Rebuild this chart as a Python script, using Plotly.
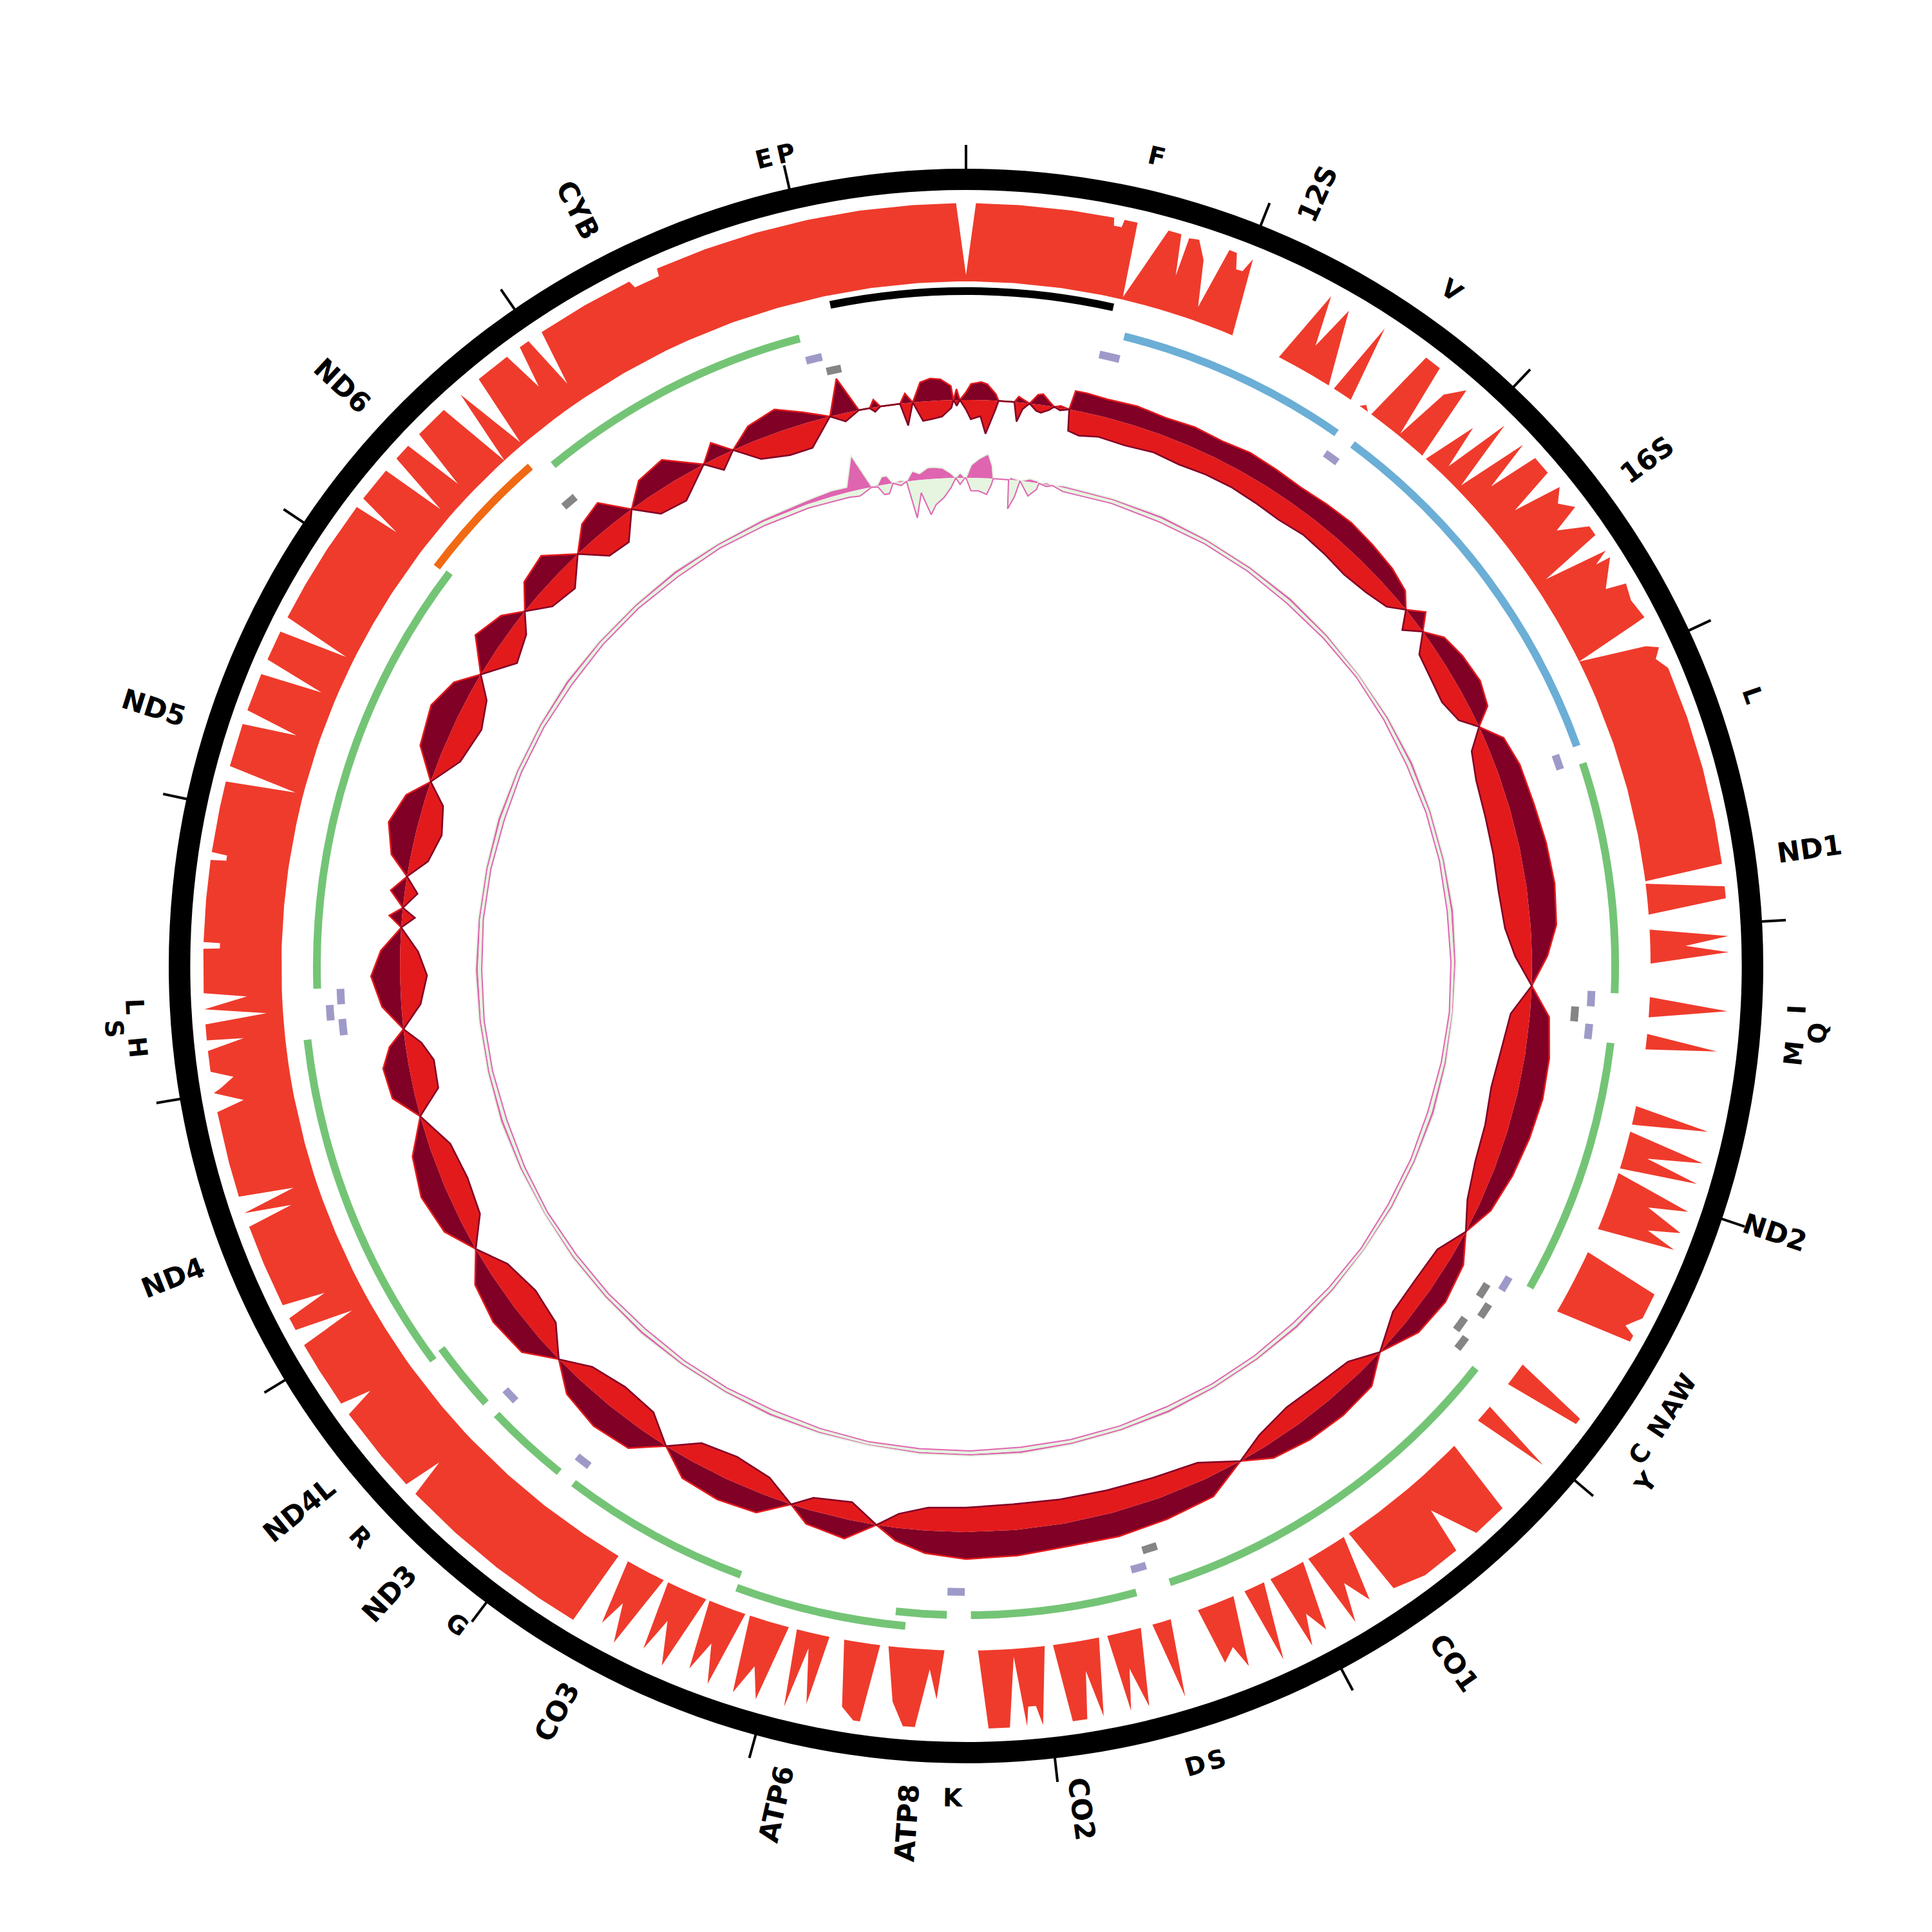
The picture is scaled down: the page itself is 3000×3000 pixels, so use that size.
import math
import plotly.graph_objects as go

# ---------------------------------------------------------------- data
GENOME_LEN = 16590
TICK_STEP = 1000

FEAT_NAME = ["D-loop", "F", "12S", "V", "16S", "L", "ND1", "I", "Q", "M", "ND2",
             "W", "A", "N", "C", "Y", "CO1", "S", "D", "CO2", "K", "ATP8", "ATP6",
             "CO3", "G", "ND3", "R", "ND4L", "ND4", "H", "S", "L", "ND5", "ND6",
             "", "CYB", "E", "P"]
FEAT_START = [16055, 567, 650, 1613, 1684, 3240, 3309, 4253, 4323, 4392, 4461,
              5521, 5594, 5664, 5770, 5834, 5912, 7456, 7525, 7594, 8300, 8373, 8537,
              9230, 10000, 10083, 10415, 10493, 10760, 12150, 12217, 12281, 12350, 14148,
              14691, 14770, 15908, 15982]
FEAT_END = [581, 654, 1604, 1677, 3235, 3304, 4258, 4318, 4387, 4456, 5516,
            5585, 5659, 5728, 5834, 5894, 7452, 7521, 7590, 8275, 8373, 8581, 9228,
            10009, 10065, 10429, 10479, 10779, 12148, 12219, 12281, 12346, 14161, 14696,
            14756, 15906, 15977, 16046]
FEAT_KIND = ["dloop", "trna+", "rrna", "trna+", "rrna", "trna+", "cds", "trna+", "trna-", "trna+", "cds",
             "trna+", "trna-", "trna-", "trna-", "trna-", "cds", "trna-", "trna+", "cds", "trna+", "cds", "cds",
             "cds", "trna+", "cds", "trna+", "cds", "cds", "trna+", "trna+", "trna+", "cds", "cds-",
             "trna-", "cds", "trna+", "trna-"]
FEAT_LAYER = [2, 0, 0, 0, 0, 0, 0, 0, 0, 0, 0,
              0, 0, 1, 0, 1, 0, 0, 0, 0, 0, 0, 1,
              0, 0, 0, 0, 0, 1, 0, 1, 0, 0, 1,
              0, 0, 0, 0]
LABEL_LAYER = [0, 0, 0, 0, 0, 0, 0, 0, 1, 0, 0,
               0, 0, 0, 0, 1, 0, 0, 0, 0, 0, 0, 0,
               0, 0, 0, 0, 0, 0, 0, 1, 0, 0, 0,
               0, 0, 0, 0]

# sequencing depth (fraction of the clipped maximum) along the map, in degrees
COV_DEG = [0.0, 0.75, 4, 8, 11.2, 11.3, 11.9, 12.0, 13.0, 13.2, 15.4, 16.4, 16.9, 17.05, 17.8,
           18.6, 19.4, 20.2, 20.8, 21.2, 21.7, 22.1, 22.9, 27.2, 28.6, 29.4, 30.3, 32.0, 32.5,
           33.3, 34.2, 35.1, 35.5, 35.95, 36.3, 37.1, 38.4, 39.2, 39.9, 41.0, 41.8, 42.2, 43.3,
           44.0, 44.9, 45.85, 46.9, 47.6, 48.25, 49.7, 50.3, 51.1, 52.0, 53.0, 53.6, 54.8, 55.6,
           56.3, 57.0, 57.5, 57.6, 59.5, 59.9, 61.2, 62.8, 63.6, 64.8, 65.3, 66.0, 67, 71, 75, 79,
           82.3, 82.9, 83.1, 84.0, 84.9, 85.7, 86.95, 87.75, 88.4, 88.96, 89.8, 92.6, 93.4, 94.3,
           95.7, 96.5, 97.0, 101.8, 102.6, 103.4, 104.0, 105.0, 105.8, 106.6, 107.2, 107.6, 108.8,
           109.5, 110.5, 111.2, 111.85, 112.6, 114.7, 115.5, 117.5, 118.6, 119.0, 119.5, 120.3,
           125.6, 126.4, 126.9, 127.65, 130.07, 130.85, 131.6, 134.5, 135.3, 138, 139.5, 140, 143,
           145.5, 146.0, 146.5, 147.5, 148.5, 149.3, 150.0, 150.5, 151.5, 152.3, 153.0, 153.6,
           154.2, 155.4, 156.0, 157.0, 158.0, 158.6, 159.6, 160.2, 162.6, 163.3, 164.2, 165.2,
           166.1, 166.9, 167.5, 168.1, 168.8, 169.6, 170.35, 170.85, 171.95, 172.7, 173.4, 174.2,
           174.6, 175.2, 175.4, 176.05, 176.7, 178.3, 179.0, 181.8, 182.3, 182.95, 183.85, 184.75,
           185.7, 186.5, 187.2, 188.0, 188.5, 189.5, 190.25, 191.5, 192.2, 193.0, 193.8, 194.3,
           195.0, 196.0, 196.8, 197.8, 198.4, 198.8, 199.8, 200.6, 201.5, 202.0, 202.3, 203.5,
           204.5, 205.3, 205.8, 206.2, 207.5, 208.3, 209.0, 209.6, 210.5, 211.0, 214, 218, 222,
           226.2, 226.7, 227.2, 230, 234.0, 234.5, 235.0, 238, 240.2, 240.7, 241.5, 242.5, 243.0,
           243.6, 247, 250.0, 250.5, 251.1, 251.75, 252.4, 255, 258.95, 259.5, 260.4, 260.7, 261.4,
           262.03, 263.6, 264.3, 264.4, 265.6, 266.14, 266.74, 267.58, 267.96, 271.3, 271.35,
           271.75, 271.8, 275, 278.0, 278.1, 278.5, 278.6, 282, 284.0, 284.5, 285.2, 288.5, 289.0,
           289.6, 292.5, 293.0, 293.7, 296.0, 296.5, 297.2, 300, 303, 307.0, 307.3, 307.8, 310.5,
           311.0, 311.7, 313.0, 313.5, 314.2, 316.8, 317.6, 318.5, 319.6, 320.3, 323.0, 323.6,
           324.2, 325.0, 325.6, 326.2, 330, 333.8, 334.0, 336.0, 336.1, 340, 344, 348, 352, 356,
           359.25, 360.0]
COV_VAL = [0.08, 1.0, 1.0, 1.0, 1.0, 0.9, 0.9, 1.0, 1.0, 0.03, 1.0, 1.0, 0.47, 0.98, 1.0,
           0.77, 0.18, 1.0, 1.0, 0.8, 0.81, 1.0, 0.0, 0.0, 1.0, 0.35, 0.95, 0.0, 0.0,
           1.0, 0.0, 0.0, 0.06, 0.0, 0.0, 1.0, 1.0, 0.03, 0.77, 1.0, 0.0, 0.0, 0.7,
           0.13, 1.0, 0.07, 1.0, 0.34, 1.0, 1.0, 0.37, 1.0, 0.85, 1.0, 0.63, 1.0, 1.0,
           0.16, 1.0, 0.8, 1.0, 0.74, 1.0, 0.95, 1.0, 0.0, 0.85, 1.0, 0.9, 1.0, 1.0, 1.0, 1.0,
           1.0, 0.0, 0.0, 1.0, 1.0, 0.0, 0.0, 1.0, 0.45, 1.0, 0.0, 0.0, 1.0, 0.0,
           0.0, 0.91, 0.0, 0.0, 0.97, 0.0, 0.0, 1.0, 0.3, 1.0, 0.0, 0.0, 1.0,
           0.5, 1.0, 0.6, 1.0, 0.0, 0.0, 1.0, 1.0, 0.85, 1.0, 1.0, 0.0,
           0.0, 1.0, 1.0, 0.0, 0.0, 1.0, 0.0, 0.0, 1.0, 1.0, 0.4, 1.0, 1.0,
           0.9, 0.0, 0.0, 0.85, 0.5, 1.0, 0.0, 0.0, 0.9, 0.6, 1.0, 0.0,
           0.0, 1.0, 0.0, 0.0, 0.9, 0.6, 0.75, 0.0, 0.0, 1.0, 0.0, 0.0,
           1.0, 0.47, 1.0, 0.0, 0.0, 1.0, 0.39, 1.0, 1.0, 0.0, 0.0, 1.0,
           0.75, 0.75, 1.0, 0.1, 1.0, 1.0, 0.0, 0.0, 0.63, 0.25, 1.0, 1.0,
           0.7, 0.0, 0.0, 1.0, 1.0, 0.85, 0.0, 0.0, 0.9, 0.2, 1.0, 0.0,
           0.0, 1.0, 0.6, 1.0, 0.0, 0.0, 1.0, 0.5, 0.9, 0.0, 0.0, 1.0,
           0.45, 0.9, 0.0, 0.0, 1.0, 0.5, 0.85, 0.0, 0.0, 1.0, 1.0, 1.0, 1.0,
           1.0, 0.5, 1.0, 1.0, 1.0, 0.6, 1.0, 1.0, 1.0, 0.25, 1.0, 1.0, 0.45,
           1.0, 1.0, 1.0, 0.4, 1.0, 0.3, 1.0, 1.0, 1.0, 0.64, 1.0, 0.9, 0.72,
           1.0, 1.0, 0.53, 1.0, 1.0, 0.21, 1.0, 0.45, 1.0, 1.0, 0.79,
           0.79, 1.0, 1.0, 1.0, 0.8, 0.8, 1.0, 1.0, 1.0, 0.1, 1.0, 1.0, 0.3,
           1.0, 1.0, 0.2, 1.0, 1.0, 0.1, 1.0, 1.0, 1.0, 1.0, 0.4, 1.0, 1.0,
           0.15, 1.0, 1.0, 0.2, 1.0, 1.0, 0.0, 1.0, 0.04, 1.0, 1.0, 0.45,
           1.0, 1.0, 0.27, 1.0, 1.0, 1.0, 0.9, 0.9, 1.0, 1.0, 1.0, 1.0, 1.0, 1.0,
           1.0, 0.08]

# inner red track: outward / inward excursions around its baseline, in degrees
GC_DEG = [0.0, 0.5, 1.5, 2.1, 3.0, 3.3, 4.9, 5.3, 5.8, 6.45, 7.2, 7.7, 8.5, 8.97, 9.6, 10.5,
          10.8, 12, 14, 17, 20, 23, 26, 29, 32, 35, 38, 41, 44, 47, 49.5, 51.0, 52.4, 53.8,
          55.5, 58, 61, 63.5, 65, 67, 70, 74, 78, 82, 86, 89, 92, 95, 99, 103, 107, 111, 115,
          118, 121, 125, 129, 133, 136, 140, 144, 148, 151, 155, 160, 165, 170, 175, 180, 184,
          187, 189.1, 192, 196, 198, 201, 205, 209, 212, 215, 219, 223, 226, 229, 233, 237, 240,
          243, 247, 251, 254.6, 257, 260, 262, 263.6, 266, 269, 271.5, 273.9, 275, 275.9, 277.5,
          279.1, 281, 284, 287, 289, 292, 296, 299, 301, 304, 307, 308.8, 311, 314, 316.7, 319,
          321.5, 323.8, 326, 329, 332.4, 334, 335.7, 338, 341, 343.5, 346.1, 347.55, 349.1,
          350.2, 350.7, 351.3, 353.3, 353.9, 354.6, 355.5, 356.5, 357.5, 358.5, 358.73, 359.05,
          359.38, 360.0]
GC_OUT = [12, 25, 28, 25, 10, 0, 0, 9, 5, 0, 15, 17, 6, 0, 3, 0,
          30, 30, 28, 30, 27, 30, 28, 32, 30, 28, 31, 33, 30, 26, 18, 0, 22, 0,
          22, 30, 34, 26, 0, 28, 36, 38, 42, 44, 40, 24, 0, 30, 38, 40, 36, 30, 20,
          0, 22, 30, 25, 0, 28, 32, 30, 22, 0, 30, 35, 38, 36, 40, 42, 35,
          20, 0, 30, 22, 0, 30, 35, 30, 0, 35, 40, 30, 0, 35, 40, 30, 0,
          30, 40, 30, 0, 35, 40, 25, 0, 30, 45, 30, 0, 20, 0, 22,
          0, 30, 45, 30, 0, 35, 45, 30, 0, 40, 25, 0, 30, 38, 0, 30,
          40, 0, 30, 38, 0, 25, 0, 25, 35, 18, 0, 55, 0,
          0, 12, 0, 0, 15, 0, 30, 35, 33, 22, 0, 17,
          0, 12]
GC_IN = [15, 30, 25, 52, 15, 0, 0, 30, 10, 0, 10, 12, 6, 0, 4, 0,
         33, 37, 32, 34, 30, 33, 30, 29, 31, 33, 29, 31, 34, 29, 20, 0, 24, 0,
         25, 30, 34, 24, 0, 26, 36, 40, 42, 44, 40, 26, 0, 30, 38, 42, 36, 32, 20,
         0, 25, 28, 26, 0, 25, 30, 32, 20, 0, 28, 33, 36, 38, 40, 38, 36,
         22, 0, 28, 20, 0, 28, 38, 32, 0, 33, 38, 28, 0, 35, 42, 30, 0,
         32, 38, 32, 0, 38, 40, 25, 0, 30, 42, 28, 0, 20, 0, 20,
         0, 28, 40, 30, 0, 32, 42, 28, 0, 38, 24, 0, 28, 35, 0, 35,
         38, 0, 32, 36, 0, 22, 0, 30, 40, 40, 0, 13, 0,
         0, 7, 0, 0, 35, 0, 30, 28, 25, 12, 0, 9,
         0, 15]

# innermost pink track
PINK_DEG = [0.0, 0.6, 1.5, 2.5, 3.0, 3.2, 5.0, 5.2, 5.9, 6.35, 7.5, 8.4, 8.6, 9.5, 10.2, 11.5,
            17.5, 23.5, 29.5, 35.5, 41.5, 47.5, 53.5, 59.5, 65.5, 71.5, 77.5, 83.5, 89.5, 95.5,
            101.5, 107.5, 113.5, 119.5, 125.5, 131.5, 137.5, 143.5, 149.5, 155.5, 161.5, 167.5,
            173.5, 179.5, 185.5, 191.5, 197.5, 203.5, 209.5, 215.5, 221.5, 227.5, 233.5, 239.5,
            245.5, 251.5, 257.5, 263.5, 269.5, 275.5, 281.5, 287.5, 293.5, 299.5, 305.5, 311.5,
            317.5, 323.5, 329.5, 335.5, 341.0, 344.2, 346.0, 347.3, 348.9, 349.6, 350.2, 350.8,
            351.4, 352.3, 353.0, 353.8, 354.6, 355.6, 356.3, 357.3, 358.2, 358.8, 359.3, 359.9,
            360.0]
PINK_OUT = [0, 20, 30, 38, 20, 0, 0, 4, 2, 0, 5, 3, 0, 3, 0, 3,
            3, 4, 3, 3, 4, 3, 2, 3, 4, 3, 3, 4, 3, 2,
            3, 4, 3, 3, 2, 3, 4, 3, 3, 4, 3, 3,
            4, 3, 3, 2, 3, 4, 3, 3, 4, 3, 3, 2,
            3, 4, 3, 3, 4, 3, 3, 4, 3, 3, 4, 3,
            3, 4, 3, 4, 6, 9, 8, 55, 0, 2, 13, 13,
            0, 3, 0, 15, 10, 18, 18, 16, 8, 0, 8, 0,
            0]
PINK_IN = [0, 20, 20, 25, 10, 0, 0, 45, 25, 0, 22, 10, 0, 3, 0, 6,
           5, 6, 5, 5, 6, 5, 4, 5, 6, 5, 5, 6, 5, 4,
           5, 6, 5, 5, 4, 5, 6, 5, 5, 6, 5, 5,
           6, 5, 5, 4, 5, 6, 5, 5, 6, 5, 5, 4,
           5, 6, 5, 5, 6, 5, 5, 6, 5, 5, 6, 5,
           5, 6, 5, 6, 6, 8, 8, 10, 0, 2, 15, 15,
           0, 5, 0, 58, 20, 55, 40, 30, 15, 0, 10, 0,
           0]

# ---------------------------------------------------------------- styling
FIG_SIZE = 3000
R_MAX = 1500
RING_IN, RING_OUT, TICK_OUT = 1205, 1238, 1275
COV_BASE, COV_TOP = 1063, 1184.5
GENE_R = [1008, 1029, 1048]
TRNA_R = {"trna+": [972, 990], "trna-": [948, 967]}
BAND_W = 12
GC_R0, PINK_R0 = 879, 758
BIG_LABEL_R, SMALL_LABEL_R = 1272, [1292, 1326]
FONT = "DejaVu Sans"
BIG_SIZE, SMALL_SIZE = 43, 39

COLORS = {"cds": "#74c476", "cds-": "#f16913", "rrna": "#6baed6", "dloop": "#000000",
          "trna+": "#9e9ac8", "trna-": "#858585"}
COLOR_COV = "#ef3b2c"
COLOR_GC_OUT, COLOR_GC_IN = "#800026", "#e31a1c"
COLOR_PINK_OUT, COLOR_PINK_IN = "#df65b0", "#e5f5e0"

# DejaVu Sans Bold advance widths (em) for the characters used in labels
CHAR_W = {"N": 0.838, "D": 0.830, "C": 0.734, "O": 0.850, "S": 0.720, "Y": 0.724,
          "B": 0.762, "A": 0.774, "T": 0.682, "P": 0.733, "L": 0.637}
DIGIT_W = 0.696


def to_deg(bp):
    return bp / GENOME_LEN * 360.0


def span(i):
    start, end = FEAT_START[i], FEAT_END[i]
    if end < start:
        end += GENOME_LEN
    return start, end


fig = go.Figure()

# outer black ring
fig.add_trace(go.Barpolar(r=[RING_OUT - RING_IN] * 2, base=[RING_IN] * 2, theta=[90, 270],
                          width=[180, 180], marker=dict(color="black", line=dict(width=0)),
                          hoverinfo="skip"))

# ticks every kb
tr, tt = [], []
for k in range(0, GENOME_LEN, TICK_STEP):
    tr += [RING_OUT - 2, TICK_OUT, None]
    tt += [to_deg(k), to_deg(k), None]
fig.add_trace(go.Scatterpolar(r=tr, theta=tt, mode="lines", line=dict(color="black", width=4),
                              hoverinfo="skip"))


def filled_band(deg, base, outer, color):
    theta = list(deg) + list(deg)[::-1]
    r = list(outer) + [base] * len(deg)
    return go.Scatterpolar(r=r, theta=theta, mode="lines", fill="toself", fillcolor=color,
                           line=dict(width=0, color=color), hoverinfo="skip")


# depth track
cov_r = [COV_BASE + v * (COV_TOP - COV_BASE) for v in COV_VAL]
fig.add_trace(filled_band(COV_DEG, COV_BASE, cov_r, COLOR_COV))


def mirrored_track(deg, r0, out, inn, c_out, c_in, lw):
    ro = [r0 + v for v in out]
    ri = [r0 - v for v in inn]
    fig.add_trace(filled_band(deg, r0, ro, c_out))
    fig.add_trace(filled_band(deg, r0, ri, c_in))
    fig.add_trace(go.Scatterpolar(r=ro, theta=deg, mode="lines", line=dict(color=c_in, width=lw),
                                  hoverinfo="skip"))
    fig.add_trace(go.Scatterpolar(r=ri, theta=deg, mode="lines", line=dict(color=c_out, width=lw),
                                  hoverinfo="skip"))


mirrored_track(GC_DEG, GC_R0, GC_OUT, GC_IN, COLOR_GC_OUT, COLOR_GC_IN, 2.5)
mirrored_track(PINK_DEG, PINK_R0, PINK_OUT, PINK_IN, COLOR_PINK_OUT, COLOR_PINK_IN, 2)

# gene / tRNA arcs
for kind, color in COLORS.items():
    idx = [i for i in range(len(FEAT_NAME)) if FEAT_KIND[i] == kind]
    if not idx:
        continue
    rc = [TRNA_R[kind][FEAT_LAYER[i]] if kind.startswith("trna") else GENE_R[FEAT_LAYER[i]]
          for i in idx]
    mids, widths = [], []
    for i in idx:
        s, e = span(i)
        mids.append(to_deg((s + e) / 2))
        widths.append(to_deg(e - s))
    fig.add_trace(go.Barpolar(r=[BAND_W] * len(idx), base=[c - BAND_W / 2 for c in rc],
                              theta=mids, width=widths,
                              marker=dict(color=color, line=dict(width=0)), hoverinfo="skip"))

# labels
annotations = []
for i, name in enumerate(FEAT_NAME):
    kind = FEAT_KIND[i]
    if not name or kind == "dloop":
        continue
    s, e = span(i)
    t = to_deg((s + e) / 2) % 360
    if kind.startswith("trna"):
        r = SMALL_LABEL_R[LABEL_LAYER[i]]
        size = SMALL_SIZE
        ang = t - 180 if 90 <= t < 270 else (t if t < 90 else t - 360)
    else:
        width = sum(CHAR_W.get(ch, DIGIT_W) for ch in name) * BIG_SIZE
        r = BIG_LABEL_R + width / 2
        size = BIG_SIZE
        ang = t - 90 if t < 180 else t - 270
    rad = math.radians(t)
    annotations.append(dict(x=0.5 + r * math.sin(rad) / FIG_SIZE,
                            y=0.5 + r * math.cos(rad) / FIG_SIZE,
                            xref="paper", yref="paper", text=name, showarrow=False,
                            textangle=ang, xanchor="center", yanchor="middle",
                            font=dict(family=FONT, size=size, color="black", weight="bold")))

fig.update_layout(
    width=FIG_SIZE, height=FIG_SIZE,
    margin=dict(l=0, r=0, t=0, b=0, pad=0),
    paper_bgcolor="white",
    showlegend=False,
    annotations=annotations,
    polar=dict(
        domain=dict(x=[0, 1], y=[0, 1]),
        bgcolor="white",
        barmode="overlay",
        hole=0,
        radialaxis=dict(range=[0, R_MAX], visible=False, showgrid=False),
        angularaxis=dict(rotation=90, direction="clockwise", visible=False, showgrid=False),
    ),
)

fig.write_html("out.html", config={"displayModeBar": False},
               post_script="document.body.style.margin='0';")
